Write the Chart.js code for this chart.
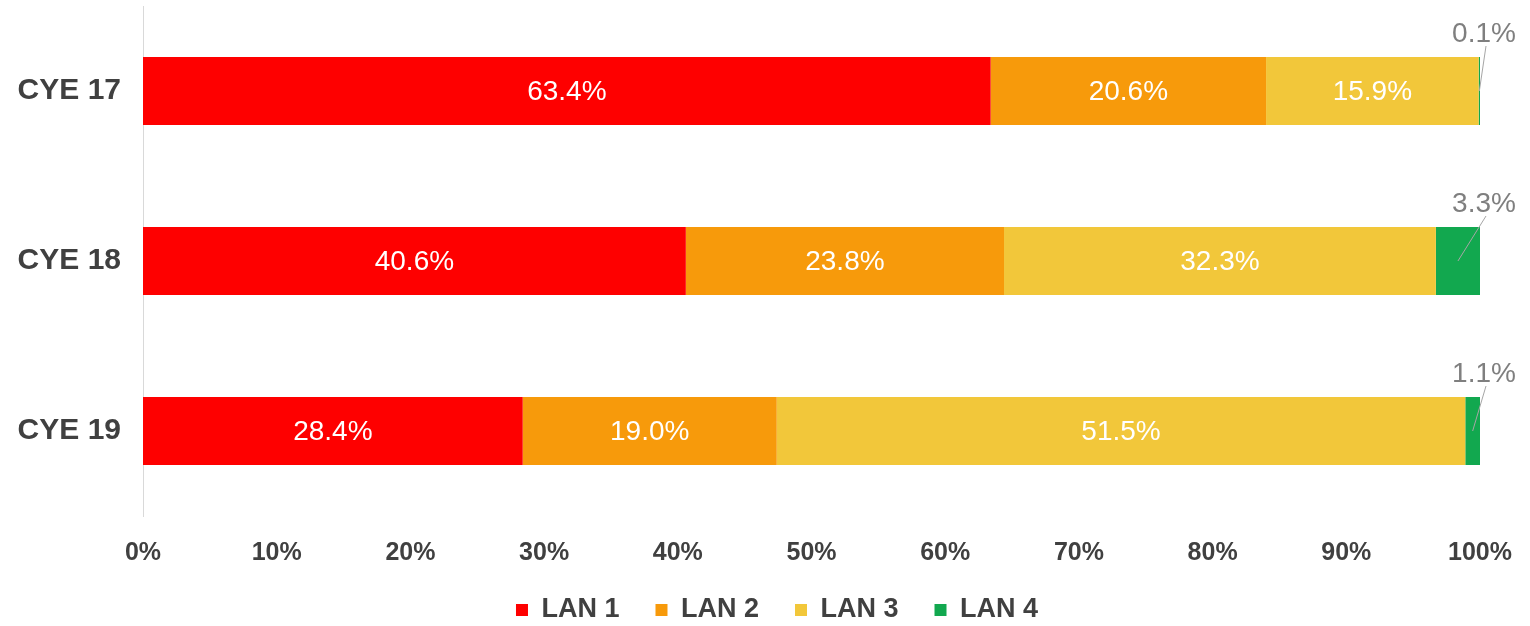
<!DOCTYPE html>
<html>
<head>
<meta charset="utf-8">
<script src="https://cdn.jsdelivr.net/npm/chart.js@4.4.0/dist/chart.umd.min.js"></script>
<style>
  html, body { margin: 0; padding: 0; background: #fff; }
  #wrap { width: 1530px; height: 626px; }
</style>
</head>
<body>
<div id="wrap"><canvas id="lanChart" width="1530" height="626"></canvas></div>
<script>
// data
const categorias = ['CYE 17', 'CYE 18', 'CYE 19'];
const series = ['LAN 1', 'LAN 2', 'LAN 3', 'LAN 4'];
const lan1 = [63.4, 40.6, 28.4];
const lan2 = [20.6, 23.8, 19.0];
const lan3 = [15.9, 32.3, 51.5];
const lan4 = [0.1, 3.3, 1.1];
const ticksX = [0, 10, 20, 30, 40, 50, 60, 70, 80, 90, 100];

const colores = ['#fe0000', '#f79a0b', '#f2c73a', '#12a84f'];
const FONT = '"Liberation Sans", Arial, sans-serif';

// labels on the bars: white inside, grey with a leader line when too small
const etiquetas = {
    id: 'etiquetas',
    afterDatasetsDraw: (chart) => {
        const { ctx } = chart;
        ctx.save();
        ctx.textAlign = 'center';
        ctx.textBaseline = 'middle';
        chart.data.datasets.forEach((ds, i) => {
            const meta = chart.getDatasetMeta(i);
            meta.data.forEach((bar, j) => {
                const v = ds.data[j];
                const txt = v.toFixed(1) + '%';
                const mid = (bar.x + bar.base) / 2;
                ctx.font = '28px ' + FONT;
                if (v >= 5) {
                    ctx.fillStyle = '#ffffff';
                    ctx.fillText(txt, mid, bar.y + 1);
                } else {
                    const top = bar.y - bar.height / 2;
                    const lx = bar.x + 4;
                    const ly = top - 23;
                    ctx.strokeStyle = '#a6a6a6';
                    ctx.lineWidth = 1;
                    ctx.beginPath();
                    ctx.moveTo(mid, bar.y);
                    ctx.lineTo(lx + 2, ly + 12);
                    ctx.stroke();
                    ctx.fillStyle = '#7f7f7f';
                    ctx.fillText(txt, lx, ly);
                }
            });
        });
        ctx.restore();
    }
};

// the legend sits a bit right of the canvas centre
const moverLeyenda = {
    id: 'moverLeyenda',
    afterLayout: (chart) => {
        chart.legend.left += 37;
        chart.legend.right += 37;
    }
};

const bgColor = {
    id: 'bgColor',
    beforeDraw: (chart) => {
        const { ctx, width, height } = chart;
        ctx.save();
        ctx.fillStyle = 'white';
        ctx.fillRect(0, 0, width, height);
        ctx.restore();
    }
};

const valores = [lan1, lan2, lan3, lan4];

const ctx = document.getElementById('lanChart').getContext('2d');
const chart = new Chart(ctx, {
    type: 'bar',
    data: {
        labels: categorias,
        datasets: series.map((s, i) => ({
            label: s,
            data: valores[i],
            backgroundColor: colores[i],
            borderWidth: 0,
            barPercentage: 0.4,
            categoryPercentage: 1
        }))
    },
    options: {
        responsive: false,
        animation: false,
        indexAxis: 'y',
        layout: { padding: { top: 6, right: 50, left: 0, bottom: -7.5 } },
        scales: {
            x: {
                stacked: true,
                min: 0,
                max: 100,
                afterBuildTicks: (scale) => { scale.ticks = ticksX.map(v => ({ value: v })); },
                afterFit: (scale) => {
                    scale.height = 44.5;
                    scale.paddingLeft = 0;
                    scale.paddingRight = 0;
                },
                grid: { display: false, drawTicks: false },
                border: { display: false },
                ticks: {
                    padding: 22,
                    color: '#404040',
                    font: { family: FONT, size: 25, weight: 'bold' },
                    callback: (v) => v + '%'
                }
            },
            y: {
                stacked: true,
                afterFit: (scale) => {
                    scale.width = 143;
                    scale.paddingTop = 0;
                    scale.paddingBottom = 0;
                },
                grid: { display: false, drawTicks: false },
                border: { display: true, color: '#d9d9d9', width: 1 },
                ticks: {
                    padding: 22,
                    color: '#404040',
                    font: { family: FONT, size: 30, weight: 'bold' }
                }
            }
        },
        plugins: {
            legend: {
                position: 'bottom',
                labels: {
                    boxWidth: 12,
                    boxHeight: 12,
                    padding: 36,
                    color: '#404040',
                    font: { family: FONT, size: 27, weight: 'bold' }
                }
            },
            tooltip: { enabled: false }
        }
    },
    plugins: [bgColor, moverLeyenda, etiquetas]
});
</script>
</body>
</html>
